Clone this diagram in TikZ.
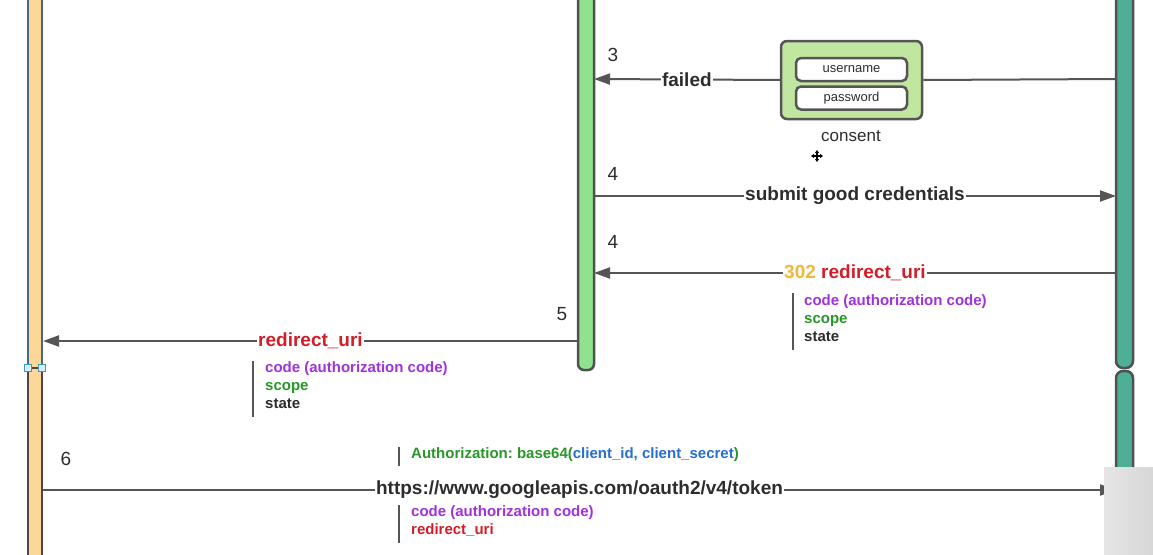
\documentclass[tikz,border=0pt]{standalone}
\usepackage{fontspec}
\usepackage{graphicx}
\setmainfont{Liberation Sans}
\usetikzlibrary{arrows.meta}
\frenchspacing
\definecolor{peach}{RGB}{252,216,152}
\definecolor{bluegray}{RGB}{74,104,120}
\definecolor{darkbrown}{RGB}{80,68,68}
\definecolor{linegray}{RGB}{85,85,85}
\definecolor{barborder}{RGB}{80,80,80}
\definecolor{lgreen}{RGB}{144,226,140}
\definecolor{teal}{RGB}{77,176,150}
\definecolor{consentgreen}{RGB}{192,230,160}
\definecolor{txt}{RGB}{45,45,45}
\definecolor{cpurple}{RGB}{160,50,220}
\definecolor{cgreen}{RGB}{40,150,40}
\definecolor{cred}{RGB}{210,30,40}
\definecolor{cyellow}{RGB}{240,185,60}
\definecolor{cblue}{RGB}{40,110,210}
\definecolor{handle}{RGB}{210,240,255}
\definecolor{handleb}{RGB}{60,150,200}
\begin{document}
\begin{tikzpicture}[x=1pt,y=-1pt,
  msg/.style={draw=linegray, line width=2pt, -{Triangle[length=16pt,width=11pt]}},
  plain/.style={draw=linegray, line width=2pt},
  lbl/.style={fill=white, inner xsep=1pt, inner ysep=0pt, text=txt, font=\fontsize{19}{22}\selectfont\bfseries},
  num/.style={text=txt, inner sep=0pt, font=\fontsize{19}{22}\selectfont},
  note/.style={align=left, anchor=west, inner sep=0pt, font=\fontsize{15}{18}\selectfont\bfseries},
  notebar/.style={draw=linegray, line width=2.5pt},
  field/.style={draw=linegray, line width=2.5pt, fill=white, rounded corners=5pt, minimum width=111pt, minimum height=23pt, inner sep=0pt, text=txt, font=\fontsize{13}{15}\selectfont}
]
\useasboundingbox (0,0) rectangle (1153,554);
\fill[white] (0,0) rectangle (1153,554);

% left lifeline
\draw[fill=peach, draw=bluegray, line width=2pt] (28,-20) rectangle (42,368);
\draw[fill=peach, draw=darkbrown, line width=2pt] (28,368) rectangle (42,580);
\draw[darkbrown, line width=1.5pt] (28,368) -- (42,368);
\node[draw=handleb, fill=handle, line width=1pt, minimum size=7pt, inner sep=0pt] (h1) at (28,368) {};
\node[draw=handleb, fill=handle, line width=1pt, minimum size=7pt, inner sep=0pt] (h2) at (42,368) {};

% middle lifeline
\draw[fill=lgreen, draw=barborder, line width=2.5pt, rounded corners=6pt] (578,-20) rectangle (594,370);

% right lifeline
\draw[fill=teal, draw=barborder, line width=2.5pt, rounded corners=7pt] (1116,-20) rectangle (1133,368);
\draw[fill=teal, draw=barborder, line width=2.5pt, rounded corners=7pt] (1116,371) rectangle (1133,600);

% anchor coordinates
\coordinate (R3) at (1116,79);
\coordinate (G3) at (594,79);
\coordinate (G4a) at (594,196);
\coordinate (R4a) at (1116,196);
\coordinate (R4b) at (1116,273);
\coordinate (G4b) at (594,273);
\coordinate (G5) at (578,341);
\coordinate (L5) at (43,341);
\coordinate (L6) at (43,490);
\coordinate (R6) at (1116,490);

% step 3
\node[num] (n3) at (613,55) {3};
\node[draw=linegray, line width=2.5pt, fill=consentgreen, rounded corners=6pt, minimum width=141pt, minimum height=78pt] (consent) at (851.5,80) {};
\node[field] (user) at (851.5,69.5) {username};
\node[field] (pass) at (851.5,98) {password};
\node[text=txt, font=\fontsize{17}{20}\selectfont, inner sep=0pt] (clbl) at (851,136) {consent};
\draw[plain] (R3) -- (consent.east);
\draw[msg] (consent.west) -- node[lbl] (failed) {failed} (G3);

% cursor
\draw[black, line width=1.3pt, {Triangle[length=3pt,width=4pt]}-{Triangle[length=3pt,width=4pt]}] (811,156) -- (823,156);
\draw[black, line width=1.3pt, {Triangle[length=3pt,width=4pt]}-{Triangle[length=3pt,width=4pt]}] (817,150) -- (817,162);

% step 4a
\node[num] (n4a) at (613,174) {4};
\draw[msg] (G4a) -- node[lbl] (submit) {submit good credentials} (R4a);

% step 4b
\node[num] (n4b) at (613,242) {4};
\draw[msg] (R4b) -- node[lbl] (r302) {\textcolor{cyellow}{302} \textcolor{cred}{redirect\_uri}} (G4b);
\draw[notebar] (793,293) -- (793,350);
\node[note] (note4) at (804,318) {\textcolor{cpurple}{code (authorization code)}\\\textcolor{cgreen}{scope}\\\textcolor{txt}{state}};

% step 5
\node[num] (n5) at (562,314) {5};
\draw[msg] (G5) -- node[lbl, text=cred] (r5) {redirect\_uri} (L5);
\draw[notebar] (253,361) -- (253,417);
\node[note] (note5) at (265,385) {\textcolor{cpurple}{code (authorization code)}\\\textcolor{cgreen}{scope}\\\textcolor{txt}{state}};

% step 6
\node[num] (n6) at (66,459) {6};
\draw[msg] (L6) -- node[lbl] (url) {https://www.googleapis.com/oauth2/v4/token} (R6);
\draw[notebar] (399,447) -- (399,466);
\node[note] (auth) at (411,455) {\textcolor{cgreen}{Authorization: base64(}\textcolor{cblue}{client\_id, client\_secret}\textcolor{cgreen}{)}};
\draw[notebar] (399,505) -- (399,543);
\node[note] (note6) at (411,521) {\textcolor{cpurple}{code (authorization code)}\\\textcolor{cred}{redirect\_uri}};

% overlay box bottom right
\shade[left color=black!10, right color=black!16] (1104,467) rectangle (1153,554);
\end{tikzpicture}
\end{document}
